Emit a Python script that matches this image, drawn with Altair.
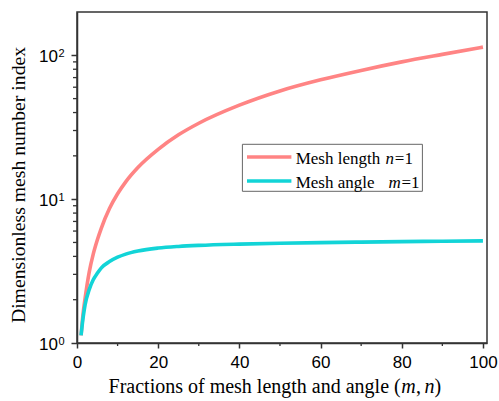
import altair as alt
import pandas as pd

# ---- data ----
x_vals = [1, 1.5, 2, 3, 4, 5, 6, 8, 10, 12, 15, 20, 25, 30, 40, 50, 60, 70, 80, 90, 100]
length_vals = [1.13, 1.6, 2.05, 3.1, 4.15, 5.2, 6.3, 8.6, 10.9, 13.2, 16.6, 22.2, 28.0,
               33.7, 45.0, 56.5, 67.5, 78.5, 90.0, 101.5, 114.0]
angle_vals = [1.13, 1.5, 1.85, 2.35, 2.75, 3.05, 3.33, 3.68, 3.95, 4.15, 4.36, 4.57, 4.69,
              4.77, 4.87, 4.94, 4.99, 5.03, 5.07, 5.1, 5.13]
series_names = ["Mesh length n=1", "Mesh angle m=1"]
series_colors = ["#FF8484", "#12D4D7"]

x_major = [0, 20, 40, 60, 80, 100]
x_minor = [10, 30, 50, 70, 90]
y_major = [1, 10, 100]
y_exps = ["0", "1", "2"]
y_minor = [2, 3, 4, 5, 6, 7, 8, 9, 20, 30, 40, 50, 60, 70, 80, 90]

W, H = 410, 331
AX = "#333333"

n = len(x_vals)
df = pd.DataFrame({
    "x": x_vals + x_vals,
    "v": length_vals + angle_vals,
    "s": [series_names[0]] * n + [series_names[1]] * n,
})

xscale = alt.Scale(domain=[0, 101], nice=False, zero=False)
yscale = alt.Scale(type="log", domain=[1, 200], nice=False)

xaxis = alt.Axis(
    values=x_major, title=None, grid=False, tickSize=5, tickWidth=1.5, tickColor=AX,
    domainColor=AX, domainWidth=1.5, labelFont="Liberation Sans", labelFontSize=17,
    labelColor="black", labelPadding=6, labelFlush=False)
yaxis = alt.Axis(
    values=y_major, title=None, grid=False, labels=False, tickSize=6, tickWidth=1.5,
    tickColor=AX, domainColor=AX, domainWidth=1.5)


def X(field):
    return alt.X(field, type="quantitative", scale=xscale, axis=xaxis)


def Y(field):
    return alt.Y(field, type="quantitative", scale=yscale, axis=yaxis)


lines = alt.Chart(df).mark_line(strokeWidth=3.6, interpolate="monotone").encode(
    x=X("x"), y=Y("v"),
    color=alt.Color("s:N", scale=alt.Scale(domain=series_names, range=series_colors), legend=None),
)

ym = alt.Chart(pd.DataFrame({"v": y_minor})).mark_rule(color=AX, strokeWidth=1.3).encode(
    y=Y("v"), x=alt.value(-4), x2=alt.value(0))
xm = alt.Chart(pd.DataFrame({"x": x_minor})).mark_rule(color=AX, strokeWidth=1.3).encode(
    x=X("x"), y=alt.value(H), y2=alt.value(H + 3))

ylab_df = pd.DataFrame({"v": y_major, "e": y_exps})
ylab_base = alt.Chart(ylab_df).mark_text(
    align="right", baseline="alphabetic", font="Liberation Sans", fontSize=17, dy=7, color="black"
).encode(y=Y("v"), x=alt.value(-19), text=alt.value("10"))
ylab_exp = alt.Chart(ylab_df).mark_text(
    align="left", baseline="alphabetic", font="Liberation Sans", fontSize=11, dy=1.5, color="black"
).encode(y=Y("v"), x=alt.value(-18.5), text="e:N")

one = pd.DataFrame({"k": [0]})


def txt(s, x, y, size, italic=False, align="left", angle=None, baseline="alphabetic"):
    kw = dict(align=align, baseline=baseline, font="Liberation Serif", fontSize=size,
              color="black")
    if italic:
        kw["fontStyle"] = "italic"
    if angle is not None:
        kw["angle"] = angle
    return alt.Chart(one).mark_text(**kw).encode(
        x=alt.value(x), y=alt.value(y), text=alt.value(s))


# axis titles
ytitle = txt("Dimensionless mesh number index", -52, 173, 19.7, align="center", angle=270)
xt = [
    txt("Fractions of mesh length and angle (", 323.7, 381, 20, align="right"),
    txt("m", 324.2, 381, 20, italic=True),
    txt(",", 339, 381, 20),
    txt("n", 347.5, 381, 20, italic=True),
    txt(")", 357.5, 381, 20),
]

# legend
box = alt.Chart(one).mark_rect(fill="white", stroke="#666666", strokeWidth=1).encode(
    x=alt.value(165.4), x2=alt.value(345.4), y=alt.value(132.3), y2=alt.value(179.3))
sw1 = alt.Chart(one).mark_rule(color=series_colors[0], strokeWidth=3.6).encode(
    x=alt.value(170), x2=alt.value(214.4), y=alt.value(145))
sw2 = alt.Chart(one).mark_rule(color=series_colors[1], strokeWidth=3.6).encode(
    x=alt.value(170), x2=alt.value(214.4), y=alt.value(169))
leg = [
    txt("Mesh length", 218.7, 151.6, 17),
    txt("n", 308.5, 151.6, 17, italic=True),
    txt("=1", 317.8, 151.6, 17),
    txt("Mesh angle", 218.7, 175.6, 17),
    txt("m", 311.5, 175.6, 17, italic=True),
    txt("=1", 324.5, 175.6, 17),
]

chart = alt.layer(
    lines, ym, xm, ylab_base, ylab_exp, ytitle, *xt, box, sw1, sw2, *leg
).properties(
    width=W, height=H, autosize=alt.AutoSizeParams(type="none"),
    padding={"left": 77, "top": 12, "right": 12, "bottom": 58},
).configure_view(stroke=AX, strokeWidth=1.5)

chart.save("out.html", embed_options={"renderer": "svg", "actions": False})
